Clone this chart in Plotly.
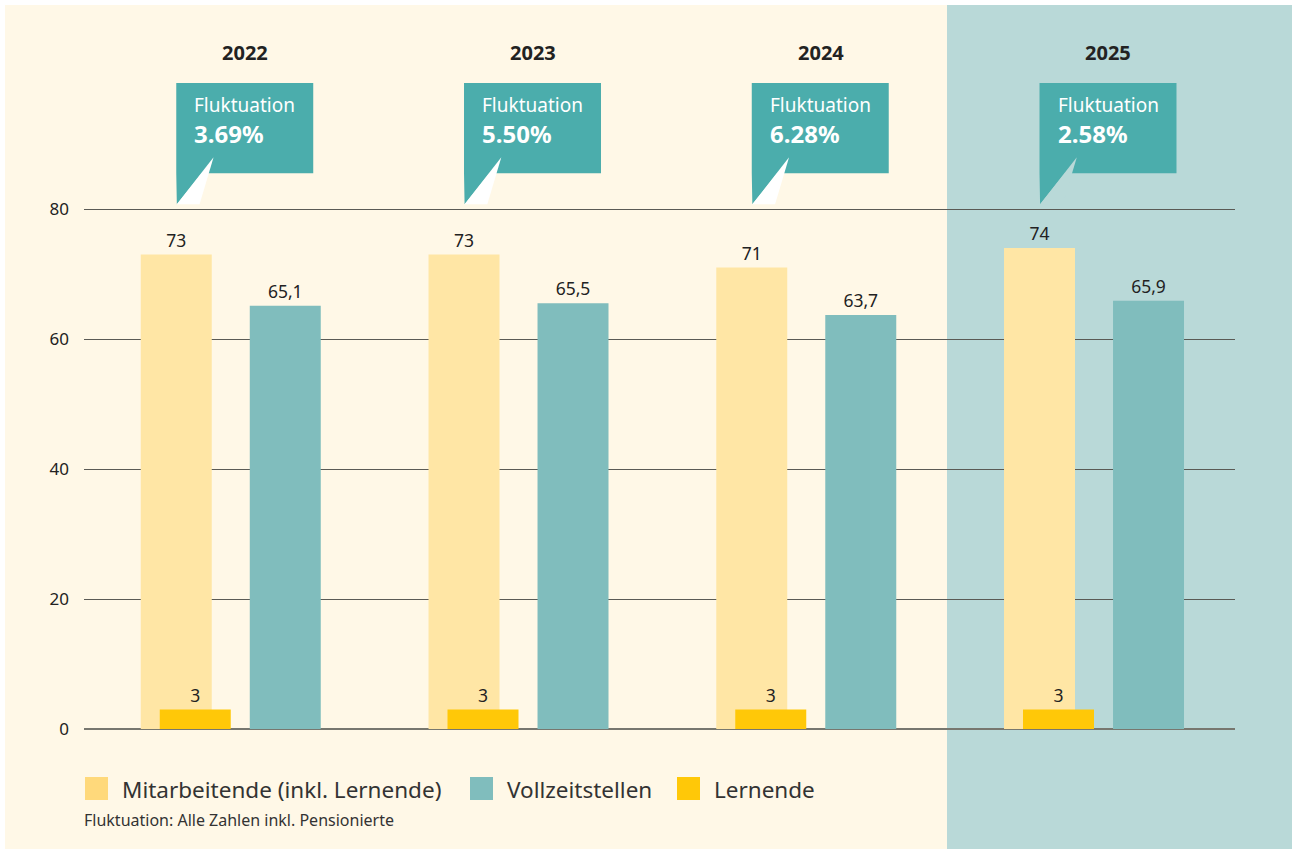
import plotly.graph_objects as go

# ---- data ----
years = ["2022", "2023", "2024", "2025"]
mitarbeitende = [73, 73, 71, 74]
vollzeitstellen = [65.1, 65.5, 63.7, 65.9]
lernende = [3, 3, 3, 3]
fluktuation = ["3.69%", "5.50%", "6.28%", "2.58%"]
y_ticks = [0, 20, 40, 60, 80]
legend_labels = ["Mitarbeitende (inkl. Lernende)", "Vollzeitstellen", "Lernende"]
footnote = "Fluktuation: Alle Zahlen inkl. Pensionierte"

# ---- style ----
W, H = 1292, 849
PX_PER_UNIT = 6.5
Y0_PX = 729
YMAX = 80 + 2 / PX_PER_UNIT
ML, MR, MB = 84, 57, H - Y0_PX
MT = H - MB - YMAX * PX_PER_UNIT
PW, PH = W - ML - MR, H - MT - MB
NCAT = len(years)

C_CREAM = "#FFF8E7"
C_PANEL = "#B9D9D8"
C_MIT = "#FFE6A5"
C_MIT_LEG = "#FFD97B"
C_VZ = "#80BDBD"
C_LERN = "#FFC808"
C_CALL = "#4BADAC"
C_TXT = "#222222"
FONT = "Noto Sans"

BW = 0.2467
OFF_M, OFF_V, OFF_L = -0.3027, 0.0761, -0.2367


def cx(v):  # category units -> paper
    return (v + 0.5) / NCAT


def cy(v):  # y data -> paper
    return v / YMAX


def pxx(p):  # pixel -> paper
    return (p - ML) / PW


def pxy(p):
    return (H - MB - p) / PH


fig = go.Figure()
lab_font = dict(size=17.5, color=C_TXT, family=FONT)
fig.add_trace(go.Bar(x=years, y=mitarbeitende, width=BW, offset=OFF_M,
                     marker=dict(color=C_MIT, line=dict(width=0)),
                     texttemplate="%{y}", textposition="outside",
                     textfont=lab_font, cliponaxis=False, name=legend_labels[0]))
fig.add_trace(go.Bar(x=years, y=vollzeitstellen, width=BW, offset=OFF_V,
                     marker=dict(color=C_VZ, line=dict(width=0)),
                     texttemplate="%{y:.1f}", textposition="outside",
                     textfont=lab_font, cliponaxis=False, name=legend_labels[1]))
fig.add_trace(go.Bar(x=years, y=lernende, width=BW, offset=OFF_L,
                     marker=dict(color=C_LERN, line=dict(width=0)),
                     texttemplate="%{y}", textposition="outside",
                     textfont=lab_font, cliponaxis=False, name=legend_labels[2]))

shapes = []
# backgrounds
shapes.append(dict(type="rect", xref="paper", yref="paper", layer="below",
                   x0=pxx(5), x1=pxx(947), y0=pxy(5), y1=pxy(H + 2),
                   fillcolor=C_CREAM, line=dict(width=0)))
shapes.append(dict(type="rect", xref="paper", yref="paper", layer="below",
                   x0=pxx(947), x1=pxx(W + 2), y0=pxy(5), y1=pxy(H + 2),
                   fillcolor=C_PANEL, line=dict(width=0)))

annotations = []
BOX_W = 0.476
for i, (yr, fl) in enumerate(zip(years, fluktuation)):
    left = i + OFF_M + BW / 2
    top, bot, tip = 99.4, 85.5, 80.72
    path = (f"M {cx(left)},{cy(top)} L {cx(left + BOX_W)},{cy(top)} "
            f"L {cx(left + BOX_W)},{cy(bot)} L {cx(left + 0.088)},{cy(bot)} "
            f"L {cx(left + 0.002)},{cy(tip)} L {cx(left)},{cy(bot)} Z")
    shapes.append(dict(type="path", xref="paper", yref="paper", path=path,
                       fillcolor=C_CALL, line=dict(width=0)))
    cut = "#FFFFFF" if i < NCAT - 1 else C_PANEL
    path2 = (f"M {cx(left + 0.1296)},{cy(87.95)} L {cx(left + 0.081)},{cy(tip)} "
             f"L {cx(left + 0.002)},{cy(tip)} Z")
    shapes.append(dict(type="path", xref="paper", yref="paper", path=path2,
                       fillcolor=cut, line=dict(width=0)))
    annotations.append(dict(xref="paper", yref="paper", x=cx(left + 0.0556), y=cy(96.0),
                            xanchor="left", yanchor="middle", showarrow=False,
                            text="Fluktuation", font=dict(family=FONT, size=19, color="white")))
    annotations.append(dict(xref="paper", yref="paper", x=cx(left + 0.0556), y=cy(91.6),
                            xanchor="left", yanchor="middle", showarrow=False,
                            text=f"<b>{fl}</b>", font=dict(family=FONT, size=24, color="white")))
    annotations.append(dict(xref="paper", yref="paper", x=cx(i + 0.06), y=cy(104.0),
                            xanchor="center", yanchor="middle", showarrow=False,
                            text=f"<b>{yr}</b>", font=dict(family=FONT, size=20, color=C_TXT)))

# manual legend
leg_colors = [C_MIT_LEG, C_VZ, C_LERN]
leg_sq_x = [85, 470, 677]
for lab, col, x0 in zip(legend_labels, leg_colors, leg_sq_x):
    shapes.append(dict(type="rect", xref="paper", yref="paper",
                       x0=pxx(x0), x1=pxx(x0 + 23), y0=pxy(777), y1=pxy(800),
                       fillcolor=col, line=dict(width=0)))
    annotations.append(dict(xref="paper", yref="paper", x=pxx(x0 + 35), y=pxy(789),
                            xanchor="left", yanchor="middle", showarrow=False,
                            text=lab, font=dict(family=FONT, size=22.5, color="#333333")))
annotations.append(dict(xref="paper", yref="paper", x=pxx(82), y=pxy(820),
                        xanchor="left", yanchor="middle", showarrow=False,
                        text=footnote, font=dict(family=FONT, size=16, color="#333333")))

fig.update_layout(
    width=W, height=H,
    margin=dict(l=ML, r=MR, t=MT, b=MB, pad=0),
    paper_bgcolor="white", plot_bgcolor="rgba(0,0,0,0)",
    barmode="overlay", showlegend=False, separators=",.",
    font=dict(family=FONT, color=C_TXT),
    shapes=shapes, annotations=annotations,
    xaxis=dict(type="category", range=[-0.5, NCAT - 0.5], showticklabels=False,
               showgrid=False, zeroline=False, showline=False, ticks="", fixedrange=True),
    yaxis=dict(range=[0, YMAX], tickvals=y_ticks, showgrid=True, gridcolor="#5a5a55",
               gridwidth=1.2, zeroline=True, zerolinecolor="#77776f", zerolinewidth=2,
               showline=False, ticks="", tickfont=dict(size=17, color=C_TXT, family=FONT),
               ticklabelstandoff=14, fixedrange=True),
)

fig.write_html("out.html", config={"displayModeBar": False},
               post_script="document.body.style.margin='0';")
